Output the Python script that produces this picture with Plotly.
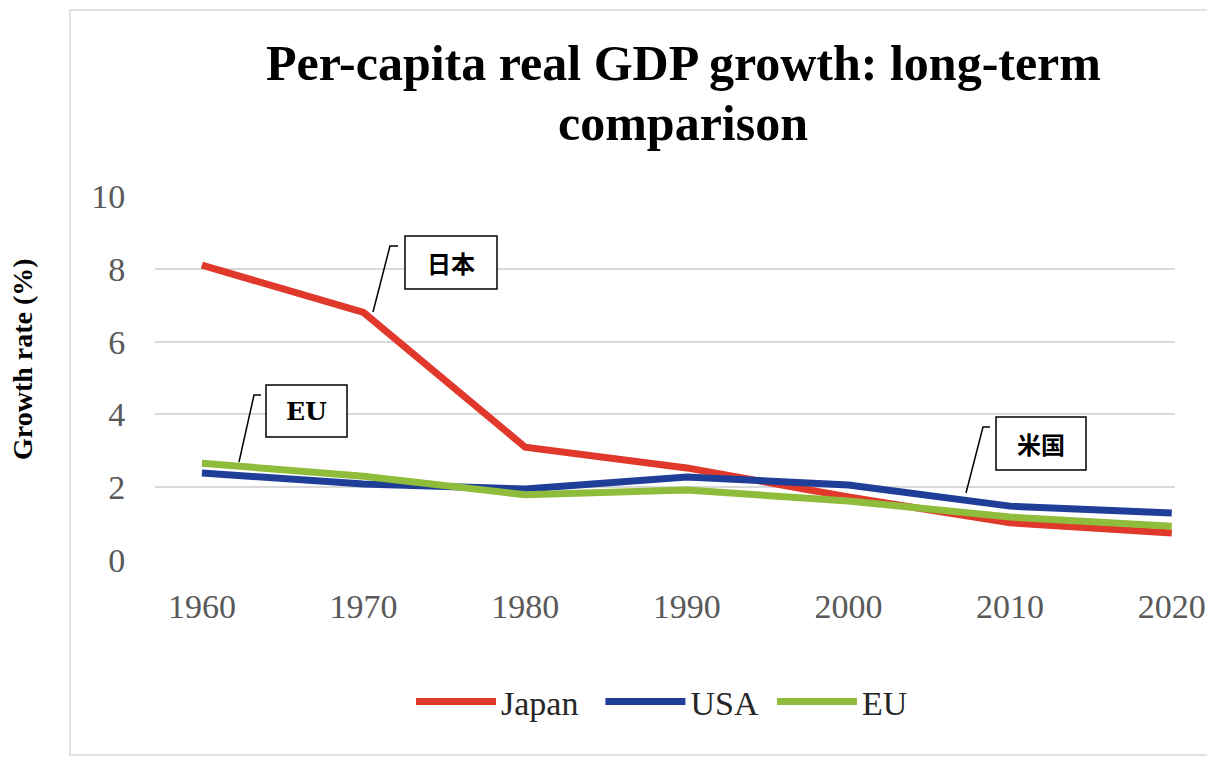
import plotly.graph_objects as go

years = [1960, 1970, 1980, 1990, 2000, 2010, 2020]
japan = [8.1, 6.8, 3.1, 2.53, 1.73, 1.02, 0.74]
usa = [2.39, 2.09, 1.95, 2.28, 2.06, 1.48, 1.29]
eu = [2.66, 2.3, 1.79, 1.92, 1.62, 1.18, 0.93]

series_names = ["Japan", "USA", "EU"]
legend_pad = ["\u00a0\u00a0", "\u00a0", ""]
series_colors = ["#E0392B", "#1F3E98", "#8FBC3B"]
title_lines = ["Per-capita real GDP growth: long-term", "comparison"]
y_title = "Growth rate (%)"
callouts = ["日本", "EU", "米国"]

# page body has an 8px margin; the figure is shrunk so it fits the window
OFF = 8
W, H = 1215 - OFF, 763 - OFF
L, R, T, B = 155, 1175, 196, 560  # plot area in window pixels


def px(xp):
    return (xp - L) / (R - L)


def py(yp):
    return (B - yp) / (B - T)


fig = go.Figure()
for name, pad, vals, col in zip(series_names, legend_pad, [japan, usa, eu], series_colors):
    fig.add_trace(go.Scatter(x=years, y=vals, mode="lines", name=name + pad,
                             line=dict(color=col, width=7)))

serif = "Liberation Serif"

annotations = [
    dict(text="<b>%s</b>" % title_lines[0], x=px(683), y=py(63), xref="paper", yref="paper",
         showarrow=False, font=dict(family=serif, size=50, color="#000000"), xanchor="center", yanchor="middle"),
    dict(text="<b>%s</b>" % title_lines[1], x=px(683), y=py(123), xref="paper", yref="paper",
         showarrow=False, font=dict(family=serif, size=50, color="#000000"), xanchor="center", yanchor="middle"),
    dict(text="<b>%s</b>" % y_title, x=px(22), y=py(359), xref="paper", yref="paper", textangle=-90,
         showarrow=False, font=dict(family=serif, size=28, color="#000000"), xanchor="center", yanchor="middle"),
]

boxes = [
    (callouts[0], 405, 236, 497, 289, "Noto Sans CJK JP", 24),
    (callouts[1], 266, 385, 347, 437, "DejaVu Serif", 25),
    (callouts[2], 996, 417, 1086, 470, "Noto Sans CJK JP", 24),
]
shapes = []
for txt, x0, y0, x1, y1, fam, sz in boxes:
    shapes.append(dict(type="rect", xref="paper", yref="paper", x0=px(x0), x1=px(x1), y0=py(y1), y1=py(y0),
                       line=dict(color="#000000", width=1.5), fillcolor="#FFFFFF", layer="above"))
    annotations.append(dict(text="<b>%s</b>" % txt, x=px((x0 + x1) / 2), y=py((y0 + y1) / 2), xref="paper",
                            yref="paper", showarrow=False, font=dict(family=fam, size=sz, color="#000000"),
                            xanchor="center", yanchor="middle"))

leaders = [
    [(373, 312), (390, 246), (398, 246)],
    [(239, 462), (254, 395), (261, 395)],
    [(966, 493), (983, 427), (990, 427)],
]
for pts in leaders:
    path = "M " + " L ".join("%.5f,%.5f" % (px(a), py(b)) for a, b in pts)
    shapes.append(dict(type="path", xref="paper", yref="paper", path=path,
                       line=dict(color="#000000", width=1.5), layer="above"))

# outer chart border
shapes.append(dict(type="rect", xref="paper", yref="paper", x0=px(70), x1=px(1210), y0=py(755), y1=py(10),
                   line=dict(color="#D9D9D9", width=1.5), layer="below"))

fig.update_layout(
    width=W, height=H,
    margin=dict(l=L - OFF, r=W - (R - OFF), t=T - OFF, b=H - (B - OFF), autoexpand=False),
    paper_bgcolor="#FFFFFF", plot_bgcolor="#FFFFFF",
    showlegend=True,
    legend=dict(orientation="h", x=px(662), y=py(702), xanchor="center", yanchor="middle",
                font=dict(family=serif, size=34, color="#262626"), itemwidth=80,
                traceorder="normal"),
    annotations=annotations,
    shapes=shapes,
    xaxis=dict(range=[1957.1, 2020.2], tickvals=years, ticktext=[str(y) for y in years],
               showgrid=False, zeroline=False, showline=False,
               ticks="outside", ticklen=16, tickcolor="rgba(0,0,0,0)",
               tickfont=dict(family=serif, size=34, color="#595959")),
    yaxis=dict(range=[0, 10], dtick=2, showgrid=True, gridcolor="#D9D9D9", gridwidth=1.5,
               zeroline=False, showline=False,
               ticks="outside", ticklen=22, tickcolor="rgba(0,0,0,0)",
               tickfont=dict(family=serif, size=34, color="#595959")),
)

fig.write_html("out.html")
